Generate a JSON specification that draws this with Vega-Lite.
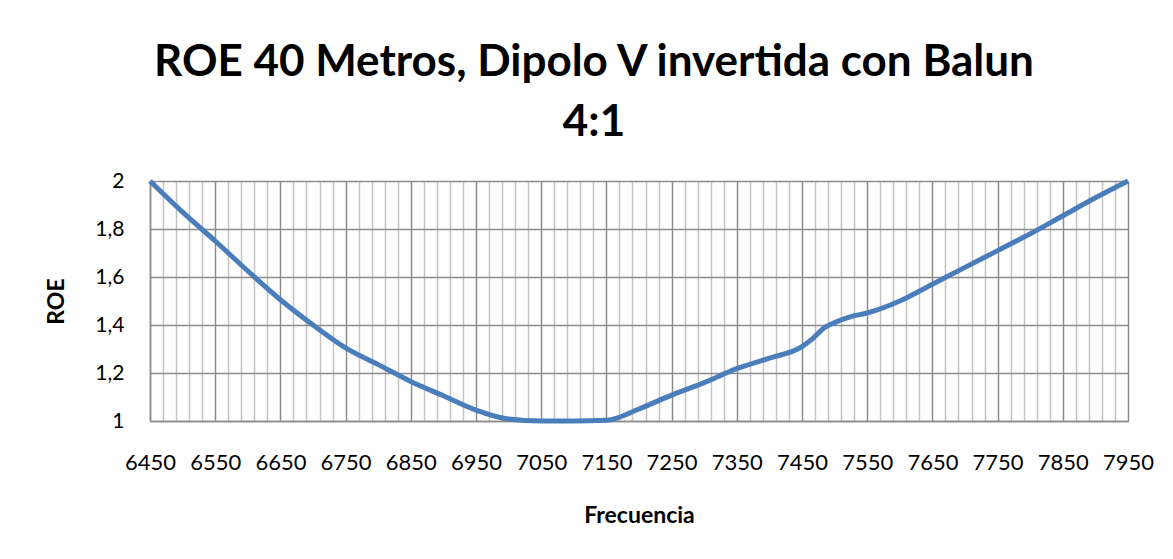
{
  "$schema": "https://vega.github.io/schema/vega-lite/v6.json",
  "autosize": "none",
  "width": 978,
  "height": 240,
  "padding": {"left": 150, "top": 181, "right": 45, "bottom": 138},
  "background": "white",
  "title": {
    "text": ["ROE 40 Metros, Dipolo V invertida con Balun", "4:1"],
    "font": "Lato",
    "fontSize": 44,
    "fontWeight": "bold",
    "color": "black",
    "lineHeight": 60,
    "anchor": "middle",
    "dx": -45,
    "offset": 25
  },
  "data": {
    "values": [
      {"f": 6450, "roe": 2.0},
      {"f": 6500, "roe": 1.87},
      {"f": 6550, "roe": 1.75},
      {"f": 6600, "roe": 1.625},
      {"f": 6650, "roe": 1.505},
      {"f": 6700, "roe": 1.4},
      {"f": 6750, "roe": 1.305},
      {"f": 6800, "roe": 1.235},
      {"f": 6850, "roe": 1.165},
      {"f": 6900, "roe": 1.105},
      {"f": 6950, "roe": 1.045},
      {"f": 7000, "roe": 1.008},
      {"f": 7050, "roe": 1.0},
      {"f": 7100, "roe": 1.0},
      {"f": 7150, "roe": 1.003},
      {"f": 7200, "roe": 1.05},
      {"f": 7250, "roe": 1.108},
      {"f": 7300, "roe": 1.16},
      {"f": 7350, "roe": 1.218},
      {"f": 7400, "roe": 1.262},
      {"f": 7450, "roe": 1.31},
      {"f": 7465, "roe": 1.34},
      {"f": 7485, "roe": 1.39},
      {"f": 7500, "roe": 1.41},
      {"f": 7525, "roe": 1.435},
      {"f": 7550, "roe": 1.45},
      {"f": 7600, "roe": 1.5},
      {"f": 7650, "roe": 1.57},
      {"f": 7700, "roe": 1.64},
      {"f": 7750, "roe": 1.71},
      {"f": 7800, "roe": 1.78},
      {"f": 7850, "roe": 1.855},
      {"f": 7900, "roe": 1.93},
      {"f": 7950, "roe": 2.0}
    ]
  },
  "config": {
    "view": {"stroke": null},
    "axis": {
      "labelFont": "Lato",
      "titleFont": "Lato",
      "labelColor": "black",
      "titleColor": "black",
      "labelOverlap": false,
      "labelFlush": false,
      "labelBound": false
    }
  },
  "resolve": {"axis": {"x": "independent"}},
  "layer": [
    {
      "mark": {"type": "line", "strokeOpacity": 0},
      "encoding": {
        "x": {
          "field": "f",
          "type": "quantitative",
          "scale": {"domain": [6450, 7950], "nice": false, "zero": false},
          "axis": {
            "orient": "top",
            "values": [6470,6490,6510,6530,6570,6590,6610,6630,6670,6690,6710,6730,6770,6790,6810,6830,6870,6890,6910,6930,6970,6990,7010,7030,7070,7090,7110,7130,7170,7190,7210,7230,7270,7290,7310,7330,7370,7390,7410,7430,7470,7490,7510,7530,7570,7590,7610,7630,7670,7690,7710,7730,7770,7790,7810,7830,7870,7890,7910,7930],
            "labels": false,
            "ticks": false,
            "domain": false,
            "title": null,
            "grid": true,
            "gridColor": "#c3c3c3",
            "gridWidth": 1.5
          }
        },
        "y": {
          "field": "roe",
          "type": "quantitative",
          "scale": {"domain": [1, 2], "nice": false, "zero": false},
          "axis": {
            "values": [1, 1.2, 1.4, 1.6, 1.8, 2],
            "labelExpr": "replace(format(datum.value, '~g'), '.', ',')",
            "labelFontSize": 21,
            "labelPadding": 26,
            "ticks": false,
            "domain": true,
            "domainColor": "#8c8c8c",
            "domainWidth": 1.5,
            "grid": true,
            "gridColor": "#8c8c8c",
            "gridWidth": 1.5,
            "title": "ROE",
            "titleFontSize": 23,
            "titleFontWeight": "bold",
            "titlePadding": 26
          }
        }
      }
    },
    {
      "mark": {"type": "line", "color": "#4A7EBB", "strokeWidth": 5, "interpolate": "monotone"},
      "encoding": {
        "x": {
          "field": "f",
          "type": "quantitative",
          "axis": {
            "orient": "bottom",
            "values": [6450,6550,6650,6750,6850,6950,7050,7150,7250,7350,7450,7550,7650,7750,7850,7950],
            "format": "d",
            "labelFontSize": 22,
            "labelPadding": 31,
            "ticks": false,
            "domain": true,
            "domainColor": "#8c8c8c",
            "domainWidth": 1.5,
            "grid": true,
            "gridColor": "#8c8c8c",
            "gridWidth": 1.5,
            "title": "Frecuencia",
            "titleFontSize": 23,
            "titleFontWeight": "bold",
            "titlePadding": 31
          }
        },
        "y": {"field": "roe", "type": "quantitative"}
      }
    }
  ]
}
